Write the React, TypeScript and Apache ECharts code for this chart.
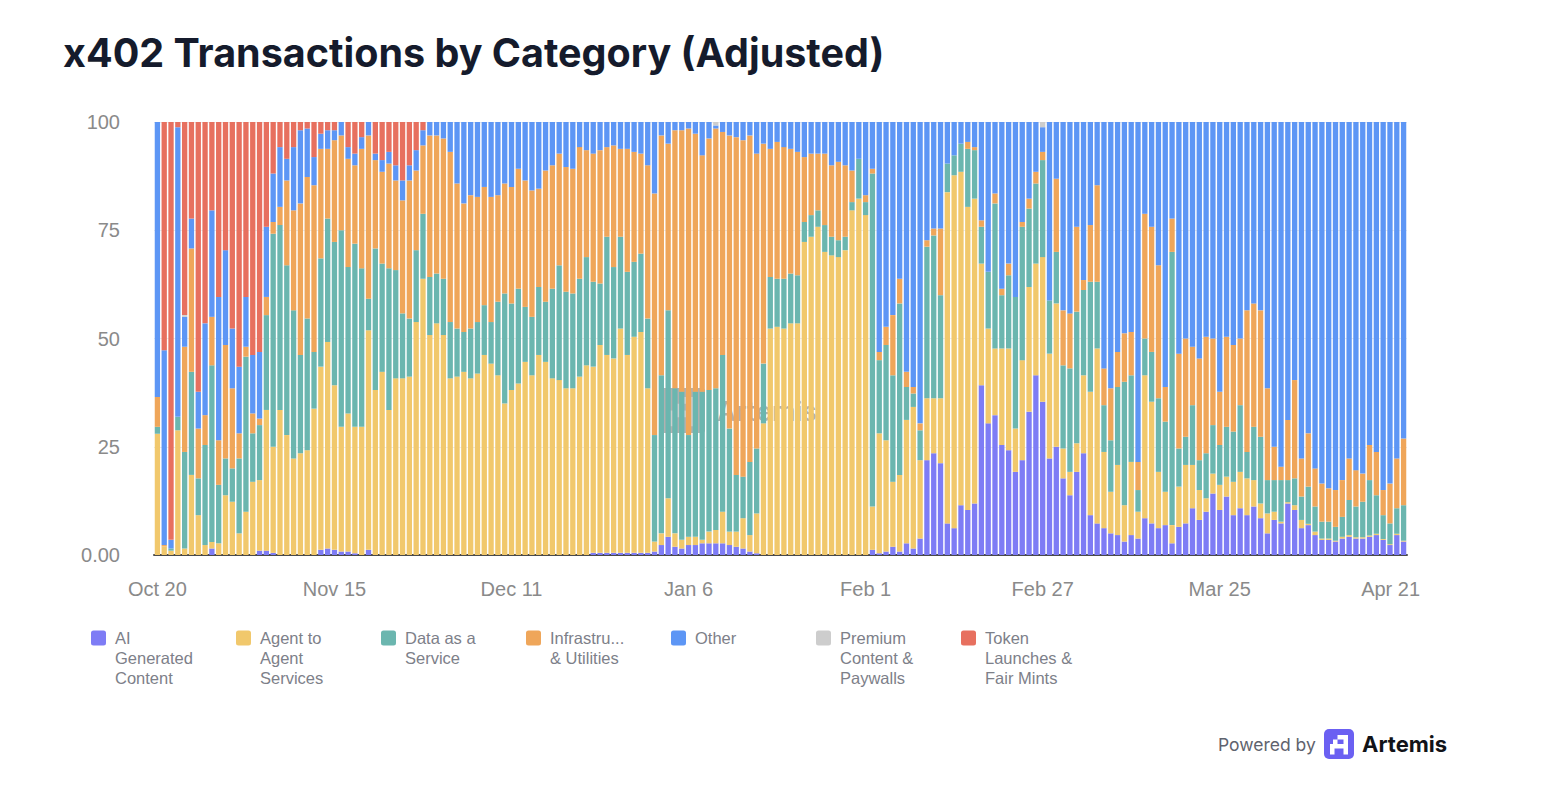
import React, { useEffect, useRef } from "react";
import * as echarts from "echarts";

// ---------- categories (calendar days, Oct 20 -> Apr 21) ----------
const MONTH_SPANS: [string, number, number][] = [
  ["Oct", 20, 31], ["Nov", 1, 30], ["Dec", 1, 31], ["Jan", 1, 31],
  ["Feb", 1, 28], ["Mar", 1, 31], ["Apr", 1, 21],
];
const CATEGORIES: string[] = MONTH_SPANS.flatMap(([m, a, b]) =>
  Array.from({ length: b - a + 1 }, (_, i) => `${m} ${a + i}`)
);
const TICK_LABELS = ["Oct 20", "Nov 15", "Dec 11", "Jan 6", "Feb 1", "Feb 27", "Mar 25", "Apr 21"];
const LAST_TICK = "Apr 21";

// ---------- series values (% share per day) ----------
const AI_GENERATED = [
  0,0,0,0,0,0,0,0,1.5,0,
  0,0,0,0,0,1,1,0.5,0,0,
  0,0,0,0,1.2,1.5,1.2,0.8,0.8,0.4,
  0,1.2,0,0,0,0,0,0,0,0,
  0,0,0,0,0,0,0,0,0,0,
  0,0,0,0,0,0,0,0,0,0,
  0,0,0,0,0.5,0.5,0.5,0.5,0.5,0.5,
  0.5,0.5,0.5,0.8,2.3,4.2,1.9,1.5,2.3,2.3,
  2.7,2.7,2.7,2.7,2.3,1.9,1.5,0.8,0.4,0,
  0,0,0,0,0,0,0,0,0,0,
  0,0,0,0,0,1.2,0.4,0.8,1.9,0.8,
  2.7,1.5,3.8,21.9,23.5,21.2,7.3,6.2,11.5,10.4,
  11.9,39.2,30.4,32.3,25.4,24.2,19.2,21.9,33.1,41.5,
  35.4,22.3,25,17.7,13.8,19.2,23.5,9.2,7.3,6.2,
  5,4.6,3.1,4.6,3.8,8.5,7.3,6.2,6.9,2.7,
  6.5,7.3,10.8,8.1,10,14.2,10.4,13.5,9.2,10.8,
  9.2,11.2,8.5,5,8.1,7.3,11.9,10.4,6.2,6.9,
  4.6,3.5,3.5,3.1,3.8,4.2,3.8,3.8,4.2,4.6,
  3.5,2.3,4.6,3.1,
];
const AGENT_TO_AGENT = [
  28,2,1,28.8,1.5,18.5,9.2,2.3,1.5,2.7,
  13.8,12.3,5,10,16.9,16.3,32.5,24.5,33.5,27.7,
  22.3,23.5,24.2,33.8,42.3,47.7,38,28.8,31.9,29.2,
  29.6,50.7,38.1,42.3,33.5,40.8,40.8,41.2,53.8,63.8,
  50.8,53.5,50.8,40.8,41.2,42.3,40.8,41.9,46.2,44.2,
  41.5,35,38.1,39.6,44.6,41.5,46.2,44.6,40.8,40.4,
  38.5,38.5,41.2,43.8,43,48,45.7,44.9,51.8,45.7,
  49.9,51,38,2.3,2.7,8.9,3.1,2,1.9,1.9,
  0.8,2.7,3.1,7.3,3.1,3.5,7,3.8,9.2,30.4,
  52.3,52.7,52.3,53.5,53.5,72.3,73.5,75.8,70,69.2,
  68.8,70.4,79.6,82.3,78.5,10,27.7,25.7,15,17.7,
  28.5,32.7,18.1,14.3,12.7,15,76.5,81.5,77,70,
  70.4,28.1,21.9,15.4,22.3,23.5,10,23.1,28.8,25.8,
  33.4,24.2,33.1,6.9,5.4,6.6,18,28.5,40.4,17.6,
  9.6,16.2,8.4,16.9,6.2,33,28.1,13,7.7,4.2,
  9.3,13.5,10,6.9,3.1,4.6,5.8,4.6,7.7,8.4,
  8.5,6.1,3.4,4.6,1.9,0.4,0.3,1.1,1.9,0.3,
  0.8,0.3,0.3,0.2,0.4,0.4,0.3,0.3,0.3,0.3,
  0.2,0.2,0.3,0.2,
];
const DATA_AS_A_SERVICE = [
  1.6,0,0.5,3.1,22.3,23.8,8.5,23.1,40.8,13.5,
  8.5,7.7,17.3,35.8,11.2,12.7,21.9,49.2,42.7,39.2,
  34.2,22.7,30.4,13.1,25,28.5,33.1,45.4,33.8,42.3,
  36.6,7.3,32.7,25,32.7,25,15,13.4,16.6,15,
  13.4,11.5,13,13,11.1,9.2,11.5,11.9,11.5,9.6,
  17,25.4,20,21.9,12.7,13.5,15.7,13.9,20.7,26.5,
  22.3,21.9,22.6,25,19.6,14.2,27.3,21.1,21.2,19.2,
  17.3,18.1,16.1,24.6,36.5,43.4,33.5,34.2,23.5,33.5,
  34.2,32.7,32.7,36.2,23.8,13.1,9.6,16.9,15,13.8,
  11.9,11.1,11.5,11.5,11.1,4.6,5,3.8,6.2,4.3,
  3.9,3.1,1.9,9.2,3,76.9,16.9,22,24.6,39.6,
  7.6,3.1,6.9,35,37.6,23.8,6.6,4.6,6.5,13.4,
  11.2,8.5,13.1,33.5,12.3,16.9,30.4,30.8,18.1,18.5,
  22.4,12.3,11.9,19.2,23.9,30.4,19.7,25.4,15.4,10.8,
  11.9,18,28.5,20,5,8.5,11.5,17,16.2,63.1,
  8.8,6.5,13.8,6.9,10.4,11.2,9.2,11.5,11.6,15.4,
  6.1,12.3,15.4,7.7,7.3,9.6,5.1,6.2,5.4,8.6,
  5.8,3.9,3.9,3.2,4.6,8.1,7.1,8.2,12.8,8.9,
  5.5,4.8,5.9,8.2,
];
const INFRASTRUCTURE = [
  6.9,0.3,0,0,24.3,28.5,11.5,6.9,11.2,10.3,
  26.2,18.5,5.8,2.3,4.6,1.5,4.2,2.7,4.2,19.6,
  23.1,35,32.7,38.5,25.3,16.1,23.5,21.9,25,18.1,
  27.6,37.7,20.4,21.2,24.2,20.7,26.1,31.9,18.4,15.8,
  32.7,31.9,32.4,39.3,33.5,29.7,30.8,28.9,27.3,28.9,
  24.6,25.4,26.9,27.7,29.2,29.2,22.7,30.3,28.5,25.8,
  28.8,28.8,30.4,24.7,29.6,30.8,20.7,28.1,20.3,28.4,
  25.4,23.1,35.4,55.8,55.4,38.5,59.6,60.4,70.8,59.6,
  54.6,58.1,60,51.5,67.7,78,77.7,75.4,68.1,50.8,
  29.6,31.6,30.4,28.8,28.5,15,14.2,13.1,16.5,16.5,
  18.1,16.5,7.3,0,1.6,1.1,1.9,4.2,13.9,5.7,
  3.5,1.5,1.6,1.5,1.6,15.4,0,0,0,1.6,
  0.7,1.5,0,2.3,1.5,2.7,0,1.1,2.3,2.7,
  1.9,0,16.9,12.7,12.7,19.6,2.3,13.1,22.3,8.5,
  12,8.1,11.2,10,6.5,28.8,28.9,30.7,8,7.7,
  21.9,22.7,13.5,23.5,26.9,20,12.3,20.8,20,15.4,
  32.7,28.5,29.2,21.2,7.7,3.1,13.9,22.7,8.8,12.3,
  8.8,8.8,7.7,8.5,8.5,9.6,8.4,6.5,8.1,10,
  5.8,9.2,11.5,15.4,
];
const OTHER = [
  63.5,45,2,66.9,6.9,6.9,8.5,21.2,24.6,33.1,
  21.9,13.8,15.4,11.5,13.5,15.4,16.2,11.2,13.8,5,
  14.6,16.9,11.2,6.5,3.5,4.3,2.3,3.1,2.7,2.7,
  2.7,3.1,1.5,2.7,2.7,3.5,4.6,3.5,4.7,3.5,
  3.1,3.1,3.8,6.9,14.2,18.8,16.9,17.3,15,17.3,
  16.9,14.2,15,10.8,13.5,15.8,15.4,11.2,10,7.3,
  10.4,10.8,5.8,6.5,7.3,6.5,5.8,5.4,6.2,6.2,
  6.9,7.3,10,16.5,3.1,5,1.9,1.9,1.5,2.7,
  7.7,3.8,0.7,2.3,3.1,3.5,4.2,3.1,7.3,5,
  6.2,4.6,5.8,6.2,6.9,8.1,7.3,7.3,7.3,10,
  9.2,10,11.2,8.5,16.9,10.8,53.1,47.3,44.6,36.2,
  57.7,61.2,69.6,27.3,24.6,24.6,9.6,7.7,5,4.6,
  5.8,22.7,34.6,16.5,38.5,32.7,40.4,23.1,17.7,11.5,
  5.7,41.2,13.1,43.5,44.2,24.2,36.5,23.8,14.6,56.9,
  61.5,53.1,48.8,48.5,78.5,21.2,24.2,33.1,61.2,22.3,
  53.5,50,51.9,54.6,49.6,50,62.3,49.6,51.5,50,
  43.5,41.9,43.5,61.5,75,79.6,68.8,59.6,77.7,71.9,
  80,83.5,84.6,85,82.7,77.7,80.4,81.2,74.6,76.2,
  85,83.5,77.7,73.1,
];
const PREMIUM_CONTENT = [
  0,0,0,0,0.4,0,0,0,0,0,
  0,0,0,0,0,0,0,0,0,0,
  0,0,0,0,0,0,0,0,0,0,
  0,0,0,0,0,0,0,0,0,0,
  0,0,0,0,0,0,0,0,0,0,
  0,0,0,0,0,0,0,0,0,0,
  0,0,0,0,0,0,0,0,0,0,
  0,0,0,0,0,0,0,0,0,0,
  0,0,0.8,0,0,0,0,0,0,0,
  0,0,0,0,0,0,0,0,0,0,
  0,0,0,0,0,0,0,0,0,0,
  0,0,0,0,0,0,0,0,0,0,
  0,0,0,0,0,0,0,0,0,0,
  1.2,0,0,0,0,0,0,0,0,0,
  0,0,0,0,0,0,0,0,0,0,
  0,0,0,0,0,0,0,0,0,0,
  0,0,0,0,0,0,0,0,0,0,
  0,0,0,0,0,0,0,0,0,0,
  0,0,0,0,
];
const TOKEN_LAUNCHES = [
  0,52.7,96.5,1.2,44.6,22.3,62.3,46.5,20.4,40.4,
  29.6,47.7,56.5,40.4,53.8,53.1,24.2,11.9,5.8,8.5,
  5.8,1.9,1.5,8.1,2.7,1.9,1.9,0,5.8,7.3,
  3.5,0,7.3,8.8,6.9,10,13.5,10,6.5,1.9,
  0,0,0,0,0,0,0,0,0,0,
  0,0,0,0,0,0,0,0,0,0,
  0,0,0,0,0,0,0,0,0,0,
  0,0,0,0,0,0,0,0,0,0,
  0,0,0,0,0,0,0,0,0,0,
  0,0,0,0,0,0,0,0,0,0,
  0,0,0,0,0,0,0,0,0,0,
  0,0,0,0,0,0,0,0,0,0,
  0,0,0,0,0,0,0,0,0,0,
  0,0,0,0,0,0,0,0,0,0,
  0,0,0,0,0,0,0,0,0,0,
  0,0,0,0,0,0,0,0,0,0,
  0,0,0,0,0,0,0,0,0,0,
  0,0,0,0,0,0,0,0,0,0,
  0,0,0,0,
];

const SERIES_NAMES = [
  "AI Generated Content",
  "Agent to Agent Services",
  "Data as a Service",
  "Infrastructure & Utilities",
  "Other",
  "Premium Content & Paywalls",
  "Token Launches & Fair Mints",
];
const SERIES_VALUES = [
  AI_GENERATED, AGENT_TO_AGENT, DATA_AS_A_SERVICE, INFRASTRUCTURE,
  OTHER, PREMIUM_CONTENT, TOKEN_LAUNCHES,
];
const SERIES_COLORS = ["#7e7cf5", "#f1c86c", "#6bb6af", "#efa65a", "#5d96f5", "#cdcdcd", "#e7705f"];
const LEGEND_TEXT: Record<string, string> = {
  "AI Generated Content": "AI\nGenerated\nContent",
  "Agent to Agent Services": "Agent to\nAgent\nServices",
  "Data as a Service": "Data as a\nService\n ",
  "Infrastructure & Utilities": "Infrastru...\n& Utilities\n ",
  "Other": "Other\n \n ",
  "Premium Content & Paywalls": "Premium\nContent &\nPaywalls",
  "Token Launches & Fair Mints": "Token\nLaunches &\nFair Mints",
};

// legend swatch: rounded 15px square at top of a 55px tall (invisible) box
const LEGEND_ICON = "path://M2.5 0H12.5Q15 0 15 2.5V12.5Q15 15 12.5 15H2.5Q0 15 0 12.5V2.5Q0 0 2.5 0Z M0 55L0.01 55Z";

// Artemis logo glyph
const GLYPH_D = "M4 17V10H6V7H9V4H16V17H13V13H7V17Z M9 7V10H13V7Z";
echarts.graphic.registerShape("artemisGlyph", echarts.graphic.extendPath(GLYPH_D, {}) as any);

const LABEL_FONT = "'Liberation Sans', Arial, sans-serif";
const AXIS_LABEL_COLOR = "#8a8a8a";

export default function App() {
  const ref = useRef<HTMLDivElement>(null);
  useEffect(() => {
    if (!ref.current) return;
    const chart = echarts.init(ref.current, null, { renderer: "svg" });
    const option: any = {
      animation: false,
      backgroundColor: "#ffffff",
      title: {
        text: "x402 Transactions by Category (Adjusted)",
        left: 58,
        top: 28,
        textStyle: {
          fontFamily: "Inter, 'Noto Sans', sans-serif",
          fontSize: 39.5,
          fontWeight: 700,
          color: "#151b2c",
        },
      },
      grid: { left: 154, right: 161, top: 122, bottom: 235, containLabel: false },
      legend: {
        data: SERIES_NAMES,
        left: 91,
        top: 628,
        padding: 0,
        itemWidth: 15,
        itemHeight: 55,
        itemGap: 21,
        icon: LEGEND_ICON,
        selectedMode: false,
        formatter: (name: string) => LEGEND_TEXT[name] ?? name,
        textStyle: {
          fontFamily: LABEL_FONT,
          fontSize: 16.5,
          lineHeight: 20,
          color: "#7d8089",
          width: 100,
          overflow: "none",
          padding: [0, 0, 0, 4],
        },
      },
      xAxis: {
        type: "category",
        data: CATEGORIES,
        boundaryGap: true,
        axisLine: { lineStyle: { color: "#4a4a4a", width: 2 } },
        axisTick: { show: false },
        axisLabel: {
          interval: (_idx: number, value: string) => TICK_LABELS.indexOf(value) >= 0,
          margin: 24,
          fontSize: 20,
          color: AXIS_LABEL_COLOR,
          fontFamily: LABEL_FONT,
          formatter: (value: string) => (value === LAST_TICK ? `{last|${value}}` : value),
          rich: {
            last: { fontSize: 20, color: AXIS_LABEL_COLOR, fontFamily: LABEL_FONT, padding: [0, 26, 0, 0] },
          },
        },
        splitLine: { show: false },
      },
      yAxis: {
        type: "value",
        min: 0,
        max: 100,
        interval: 25,
        axisLine: { show: false },
        axisTick: { show: false },
        axisLabel: {
          margin: 34,
          fontSize: 20,
          color: AXIS_LABEL_COLOR,
          fontFamily: LABEL_FONT,
          formatter: (v: number) => (v === 0 ? "0.00" : String(v)),
        },
        splitLine: { lineStyle: { color: "#ececec", width: 1 } },
      },
      series: SERIES_NAMES.map((name, i) => ({
        type: "bar",
        name,
        stack: "total",
        data: SERIES_VALUES[i],
        barCategoryGap: "22%",
        itemStyle: { color: SERIES_COLORS[i] },
        emphasis: { disabled: true },
      })),
      graphic: [
        // watermark in plot
        {
          type: "group",
          z: 100,
          silent: true,
          children: [
            { type: "rect", shape: { x: 660, y: 388, width: 45, height: 45, r: 3 }, style: { fill: "rgba(70,70,70,0.42)" } },
            { type: "artemisGlyph", x: 660, y: 388, scaleX: 2.25, scaleY: 2.25, style: { fill: "rgba(255,255,255,0.38)" } },
            {
              type: "text", x: 717, y: 411,
              style: { text: "Artemis", fontSize: 27, fontWeight: 500, fontFamily: "Inter, sans-serif", fill: "rgba(80,80,80,0.45)", verticalAlign: "middle" },
            },
          ],
        },
        // footer
        {
          type: "group",
          z: 100,
          children: [
            {
              type: "text", x: 1218, y: 744,
              style: { text: "Powered by", fontSize: 17.5, fontFamily: "Inter, sans-serif", fill: "#5f636e", verticalAlign: "middle" },
            },
            { type: "rect", shape: { x: 1324, y: 729, width: 30, height: 30, r: 5 }, style: { fill: "#6b60f2" } },
            { type: "artemisGlyph", x: 1324, y: 729, scaleX: 1.5, scaleY: 1.5, style: { fill: "#ffffff" } },
            {
              type: "text", x: 1362, y: 744,
              style: { text: "Artemis", fontSize: 22, fontWeight: 700, fontFamily: "Inter, sans-serif", fill: "#111318", verticalAlign: "middle" },
            },
          ],
        },
      ],
    };
    chart.setOption(option);
    return () => chart.dispose();
  }, []);
  return (
    <div style={{ position: "fixed", left: 0, top: 0, width: 1568, height: 790, background: "#ffffff" }}>
      <div ref={ref} style={{ width: 1568, height: 790 }} />
    </div>
  );
}
